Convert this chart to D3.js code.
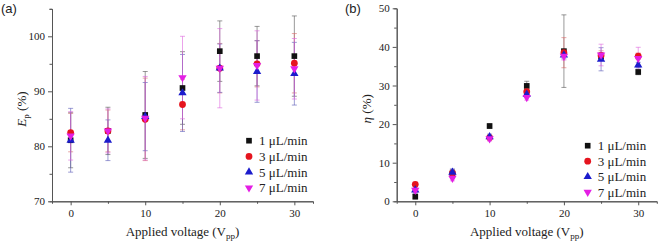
<!DOCTYPE html>
<html>
<head>
<meta charset="utf-8">
<script src="https://cdn.jsdelivr.net/npm/d3@7"></script>
<style>
  body { margin: 0; background: #fff; }
  svg { display: block; }
  .tick text { font-family: "Liberation Serif", "Times New Roman", serif; font-size: 11px; fill: #222; }
  .axis path, .axis line { stroke: #555; }
  .title { font-family: "Liberation Serif", "Times New Roman", serif; font-size: 13px; fill: #222; }
  .panel-label { font-family: "Liberation Sans", Arial, sans-serif; font-size: 13px; fill: #222; }
</style>
</head>
<body>
<svg id="chart" width="660" height="243"></svg>
<script>
// shared x values (applied voltage, Vpp)
const voltages = [0, 5, 10, 15, 20, 25, 30]
const seriesNames = ['1 μL/min', '3 μL/min', '5 μL/min', '7 μL/min']

// panel (a): Ep (%)
const epMean1 = [81.1, 82.8, 85.7, 90.6, 97.3, 96.4, 96.4]
const epErr1 = [5.0, 4.3, 7.9, 6.6, 5.5, 5.4, 7.3]
const epMean3 = [82.5, 82.8, 84.9, 87.6, 94.2, 95.0, 95.1]
const epErr3 = [3.5, 3.8, 7.5, 4.6, 4.5, 4.2, 5.4]
const epMean5 = [81.1, 81.1, 85.4, 89.7, 94.2, 93.6, 93.2]
const epErr5 = [5.8, 3.7, 6.2, 7.0, 4.4, 5.6, 5.7]
const epMean7 = [81.9, 82.8, 85.1, 92.5, 94.2, 94.7, 94.1]
const epErr7 = [4.4, 4.0, 7.6, 7.5, 7.2, 6.3, 5.5]

// panel (b): eta (%)
const etaMean1 = [1.2, 7.2, 19.5, 29.9, 38.9, 37.5, 33.5]
const etaErr1 = [0.6, 1.0, 0.6, 1.2, 9.4, 1.0, 0.7]
const etaMean3 = [4.4, 7.3, 16.5, 28.4, 38.5, 37.8, 37.6]
const etaErr3 = [0.5, 0.8, 0.6, 0.8, 3.9, 1.2, 0.8]
const etaMean5 = [2.9, 7.5, 16.7, 27.7, 37.9, 36.8, 35.3]
const etaErr5 = [0.8, 0.9, 0.7, 0.8, 1.0, 3.0, 0.7]
const etaMean7 = [2.9, 6.0, 16.2, 26.9, 37.6, 37.9, 37.0]
const etaErr7 = [0.6, 0.7, 0.6, 0.7, 1.0, 2.8, 2.9]

const colors = ['#111111', '#e5141e', '#1c1ccc', '#e41ee4']
const errColors = ['#555555', '#d96a6a', '#5a5ab8', '#dd66dd']
const shapes = [d3.symbolSquare, d3.symbolCircle, d3.symbolTriangle, d3.symbolTriangle]
const sizes = [32, 36, 30, 30]

const svg = d3.select('#chart')

function drawPanel (opts) {
  let g = svg.append('g')
  let x = d3.scaleLinear().domain([-2.5, 32.5]).range([opts.left, opts.right])
  let y = d3.scaleLinear().domain(opts.yDomain).range([opts.bottom, opts.top])

  // axes, major + minor ticks
  let minorX = d3.range(5, 32, 10)
  let minorY = d3.range(opts.yDomain[0] + opts.yStep / 2, opts.yDomain[1] + 0.01, opts.yStep)

  g.append('g').attr('class', 'axis')
    .attr('transform', `translate(0,${opts.bottom})`)
    .call(d3.axisBottom(x).tickValues(minorX).tickSize(2.5).tickFormat(''))
  g.append('g').attr('class', 'axis')
    .attr('transform', `translate(0,${opts.bottom})`)
    .call(d3.axisBottom(x).tickValues([0, 10, 20, 30]).tickSizeInner(4).tickSizeOuter(0).tickPadding(4))
  g.append('g').attr('class', 'axis')
    .attr('transform', `translate(${opts.left},0)`)
    .call(d3.axisLeft(y).tickValues(minorY).tickSize(2.5).tickFormat(''))
  g.append('g').attr('class', 'axis')
    .attr('transform', `translate(${opts.left},0)`)
    .call(d3.axisLeft(y).tickValues(opts.yTicks).tickSizeInner(4).tickSizeOuter(0).tickPadding(3))

  // error bars first so markers sit on top
  opts.series.forEach((s, si) => {
    let eb = g.append('g')
      .attr('stroke', errColors[si])
      .attr('stroke-opacity', 0.6)
      .attr('stroke-width', 1)
    voltages.forEach((v, i) => {
      let cx = x(v)
      let y0 = y(s.mean[i] - s.err[i])
      let y1 = y(s.mean[i] + s.err[i])
      eb.append('line').attr('x1', cx).attr('x2', cx).attr('y1', y0).attr('y2', y1)
      eb.append('line').attr('x1', cx - 2.5).attr('x2', cx + 2.5).attr('y1', y0).attr('y2', y0)
      eb.append('line').attr('x1', cx - 2.5).attr('x2', cx + 2.5).attr('y1', y1).attr('y2', y1)
    })
  })

  opts.series.forEach((s, si) => {
    g.append('g').selectAll('path')
      .data(voltages.map((v, i) => [v, s.mean[i]]))
      .enter()
      .append('path')
      .attr('d', d3.symbol().type(shapes[si]).size(sizes[si]))
      .attr('transform', (d) => `translate(${x(d[0])},${y(d[1])})` + (si === 3 ? ' rotate(180)' : ''))
      .attr('fill', colors[si])
  })

  // legend
  seriesNames.forEach((name, si) => {
    let ly = opts.legendY + si * opts.legendStep
    g.append('path')
      .attr('d', d3.symbol().type(shapes[si]).size(sizes[si]))
      .attr('transform', `translate(${opts.legendX},${ly})` + (si === 3 ? ' rotate(180)' : ''))
      .attr('fill', colors[si])
    g.append('text')
      .attr('class', 'title')
      .attr('x', opts.legendX + 10)
      .attr('y', ly + 4.5)
      .text(name)
  })

  // x title with subscript
  let xt = g.append('text')
    .attr('class', 'title')
    .attr('x', x(15))
    .attr('y', 236)
    .attr('text-anchor', 'middle')
  xt.append('tspan').text('Applied voltage (V')
  xt.append('tspan').attr('font-size', '9px').attr('dy', 3).text('pp')
  xt.append('tspan').attr('dy', -3).text(')')

  // y title
  let yt = g.append('text')
    .attr('class', 'title')
    .attr('transform', `translate(${opts.left - 26},${(opts.top + opts.bottom) / 2 + 4}) rotate(-90)`)
    .attr('text-anchor', 'middle')
  yt.append('tspan').attr('font-style', 'italic').text(opts.yName)
  if (opts.ySub) {
    yt.append('tspan').attr('font-size', '9px').attr('dy', 3).text(opts.ySub)
    yt.append('tspan').attr('dy', -3).text(' (%)')
  } else {
    yt.append('tspan').text(' (%)')
  }

  g.append('text')
    .attr('class', 'panel-label')
    .attr('x', opts.labelX)
    .attr('y', 13)
    .text(opts.label)
}

drawPanel({
  left: 52, right: 313, top: 8.8, bottom: 201.3,
  yDomain: [70, 105], yTicks: [70, 80, 90, 100], yStep: 10,
  yName: 'E', ySub: 'p',
  legendX: 249, legendY: 140.7, legendStep: 15.7,
  label: '(a)', labelX: 1,
  series: [
    {mean: epMean1, err: epErr1},
    {mean: epMean3, err: epErr3},
    {mean: epMean5, err: epErr5},
    {mean: epMean7, err: epErr7}
  ]
})

drawPanel({
  left: 396.7, right: 656.8, top: 8.3, bottom: 201.3,
  yDomain: [0, 50], yTicks: [0, 10, 20, 30, 40, 50], yStep: 10,
  yName: 'η', ySub: null,
  legendX: 587.7, legendY: 145.7, legendStep: 15.5,
  label: '(b)', labelX: 345,
  series: [
    {mean: etaMean1, err: etaErr1},
    {mean: etaMean3, err: etaErr3},
    {mean: etaMean5, err: etaErr5},
    {mean: etaMean7, err: etaErr7}
  ]
})
</script>
</body>
</html>
